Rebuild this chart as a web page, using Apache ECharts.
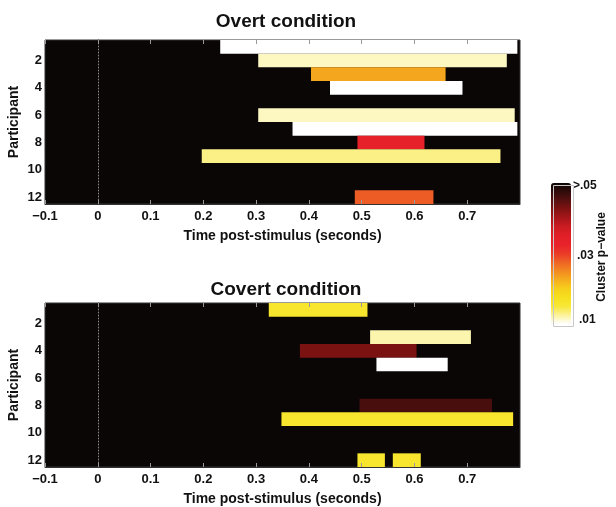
<!DOCTYPE html>
<html>
<head>
<meta charset="utf-8">
<script src="https://cdn.jsdelivr.net/npm/echarts@6/dist/echarts.min.js"></script>
<style>
html,body{margin:0;padding:0;background:#fff;}
#chart{width:616px;height:507px;}
</style>
</head>
<body>
<div id="chart"></div>
<script>
// ---- data ----
const participants = ['1','2','3','4','5','6','7','8','9','10','11','12'];
const xTicks = [-0.1, 0, 0.1, 0.2, 0.3, 0.4, 0.5, 0.6, 0.7];
const stimulusOnset = [0];

// Overt condition clusters
const overtRow   = [1, 2, 3, 4, 6, 7, 8, 9, 12];
const overtStart = [0.232, 0.304, 0.404, 0.440, 0.304, 0.369, 0.492, 0.197, 0.487];
const overtEnd   = [0.795, 0.775, 0.659, 0.691, 0.790, 0.795, 0.619, 0.763, 0.636];
const overtP     = [0.010, 0.0115, 0.023, 0.010, 0.0115, 0.010, 0.033, 0.013, 0.028];

// Covert condition clusters
const covertRow   = [1, 3, 4, 5, 8, 9, 12, 12];
const covertStart = [0.324, 0.516, 0.383, 0.528, 0.496, 0.348, 0.492, 0.559];
const covertEnd   = [0.511, 0.707, 0.604, 0.663, 0.747, 0.787, 0.544, 0.612];
const covertP     = [0.016, 0.012, 0.043, 0.010, 0.046, 0.016, 0.016, 0.016];

const pMin = 0.01, pMax = 0.05;
const colorbarLabels = ['>.05', '.03', '.01'];

// ---- build ----
function build(rows, s, e, p) {
  return rows.map((r, i) => [s[i], e[i], r - 1, p[i]]);
}
const FONT = 'Liberation Sans, Arial, Helvetica, sans-serif';
const fmt = v => {
  if (Math.abs(v) < 1e-9) return '0';
  const t = Math.abs(v).toFixed(1);
  return v < 0 ? '\u2212' + t : t;
};

function renderBar(params, api) {
  const r = api.value(2);
  const a = api.coord([api.value(0), r]);
  const b = api.coord([api.value(1), r]);
  const h = api.size([0, 1])[1];
  return {
    type: 'rect',
    shape: { x: a[0], y: a[1] - h / 2, width: b[0] - a[0], height: h },
    style: { fill: api.visual('color') }
  };
}
function renderZero(params, api) {
  const c = api.coord([api.value(0), 0]);
  const cs = params.coordSys;
  return {
    type: 'line',
    shape: { x1: Math.round(c[0]) + 0.5, y1: cs.y, x2: Math.round(c[0]) + 0.5, y2: cs.y + cs.height },
    style: { stroke: '#8a8a8a', lineWidth: 1, lineDash: [1, 2] }
  };
}

const grids = [
  { left: 45, right: 96, top: 40, height: 164 },
  { left: 45, right: 96, top: 303, height: 164 }
];

function xBottom(gi) {
  return {
    type: 'value', gridIndex: gi, position: 'bottom',
    min: -0.1, max: 0.8, interval: 0.1, z: 5,
    name: 'Time post-stimulus (seconds)', nameLocation: 'middle', nameGap: 25,
    nameTextStyle: { fontFamily: FONT, fontWeight: 'bold', fontSize: 14, color: '#111' },
    axisLine: { show: true, lineStyle: { color: '#333' } },
    axisTick: { show: true, inside: true, length: 4, lineStyle: { color: '#999' } },
    axisLabel: { showMaxLabel: false, margin: 6, formatter: fmt,
      fontFamily: FONT, fontWeight: 'bold', fontSize: 13, color: '#111' },
    splitLine: { show: false }
  };
}
function xTop(gi) {
  return {
    type: 'value', gridIndex: gi, position: 'top',
    min: -0.1, max: 0.8, interval: 0.1, z: 5,
    axisLine: { show: false },
    axisTick: { show: true, inside: true, length: 4, lineStyle: { color: '#999' } },
    axisLabel: { show: false },
    splitLine: { show: false }
  };
}
function yAx(gi) {
  return {
    type: 'category', gridIndex: gi, data: participants, inverse: true,
    name: 'Participant', nameLocation: 'middle', nameGap: 24, nameRotate: 90,
    nameMoveOverlap: false,
    nameTextStyle: { fontFamily: FONT, fontWeight: 'bold', fontSize: 14, color: '#111' },
    axisLine: { show: true, lineStyle: { color: '#333' } },
    axisTick: { show: false },
    axisLabel: { interval: (i) => i % 2 === 1, margin: 3,
      fontFamily: FONT, fontWeight: 'bold', fontSize: 13, color: '#111' },
    splitLine: { show: false }
  };
}

const chart = echarts.init(document.getElementById('chart'), null, { renderer: 'canvas' });
chart.setOption({
  backgroundColor: '#ffffff',
  animation: false,
  title: [
    { text: 'Overt condition', left: 281, top: 7, textAlign: 'center',
      textStyle: { fontFamily: FONT, fontWeight: 'bold', fontSize: 19, color: '#111' } },
    { text: 'Covert condition', left: 281, top: 275, textAlign: 'center',
      textStyle: { fontFamily: FONT, fontWeight: 'bold', fontSize: 19, color: '#111' } }
  ],
  grid: grids.map(g => Object.assign({ show: true, backgroundColor: '#0b0606', borderColor: '#333', borderWidth: 1,
    containLabel: false, outerBoundsMode: 'none' }, g)),
  xAxis: [xBottom(0), xTop(0), xBottom(1), xTop(1)],
  yAxis: [yAx(0), yAx(1)],
  visualMap: {
    type: 'continuous', min: pMin, max: pMax, dimension: 3, seriesIndex: [0, 1],
    calculable: false, orient: 'vertical', left: 551, top: 183,
    itemWidth: 20, itemHeight: 141, padding: 0, text: null, showLabel: false,
    inRange: { color: ['#ffffff', '#fbf29a', '#f7e838', '#f6e01e', '#f6cf1c', '#f5ae1e', '#f28a20',
      '#ee6424', '#ea3a28', '#e8222a', '#e21f27', '#cc1c22', '#a8161a', '#821212', '#581010', '#300b0a', '#0e0606'] }
  },
  graphic: [
    { type: 'rect', left: 551, top: 183, shape: { width: 20, height: 141 }, style: { fill: 'none', stroke: '#c8c8c8', lineWidth: 1 }, z: 100 },
    { type: 'text', x: 573, y: 186, style: { text: colorbarLabels[0], font: 'bold 12px ' + FONT, fill: '#111', textVerticalAlign: 'middle' } },
    { type: 'text', x: 577, y: 256, style: { text: colorbarLabels[1], font: 'bold 12px ' + FONT, fill: '#111', textVerticalAlign: 'middle' } },
    { type: 'text', x: 579, y: 320, style: { text: colorbarLabels[2], font: 'bold 12px ' + FONT, fill: '#111', textVerticalAlign: 'middle' } },
    { type: 'text', x: 602, y: 257, rotation: Math.PI / 2,
      style: { text: 'Cluster p\u2212value', font: 'bold 12px ' + FONT, fill: '#111', textAlign: 'center', textVerticalAlign: 'middle' } }
  ],
  series: [
    { type: 'custom', xAxisIndex: 0, yAxisIndex: 0, renderItem: renderBar,
      dimensions: ['start', 'end', 'row', 'p'],
      encode: { x: [0, 1], y: 2 }, data: build(overtRow, overtStart, overtEnd, overtP) },
    { type: 'custom', xAxisIndex: 2, yAxisIndex: 1, renderItem: renderBar,
      dimensions: ['start', 'end', 'row', 'p'],
      encode: { x: [0, 1], y: 2 }, data: build(covertRow, covertStart, covertEnd, covertP) },
    { type: 'custom', xAxisIndex: 0, yAxisIndex: 0, renderItem: renderZero, silent: true, z: 3,
      encode: { x: 0 }, data: stimulusOnset.map(v => [v]) },
    { type: 'custom', xAxisIndex: 2, yAxisIndex: 1, renderItem: renderZero, silent: true, z: 3,
      encode: { x: 0 }, data: stimulusOnset.map(v => [v]) }
  ]
});
</script>
</body>
</html>
